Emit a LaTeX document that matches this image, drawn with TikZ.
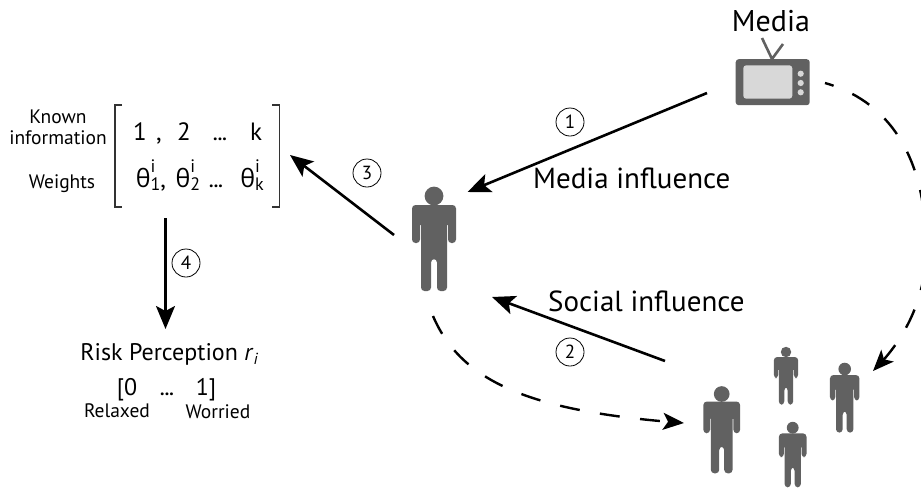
\documentclass[tikz,border=0pt]{standalone}
\usepackage{fontspec}
\setmainfont{PT Sans}
\newfontfamily\greekfont{Open Sans}
\usetikzlibrary{arrows.meta,bending}
\definecolor{figgray}{HTML}{616161}
\definecolor{screengray}{HTML}{D8D8D8}
\newcommand{\thetaij}[1]{{\greekfont θ}\rlap{\raisebox{.58em}{\fontsize{18}{18}\selectfont i}}\raisebox{-.14em}{\fontsize{18}{18}\selectfont #1}}
\newcommand{\tightdots}{\fontsize{18}{18}\selectfont\bfseries ...}
\tikzset{
  x=1pt,y=-1pt,
  solidarrow/.style={line width=2.6pt,draw=black,-{Stealth[length=23pt,width=19pt,inset=5pt]}},
  dasharrow/.style={line width=2.4pt,draw=black,dash pattern=on 20pt off 20.5pt,dash phase=11pt,-{Stealth[length=21pt,width=17pt,inset=5pt]}},
  lbl/.style={inner sep=0pt,outer sep=0pt,font=\fontsize{19.5}{22}\selectfont},
  mat/.style={inner sep=0pt,anchor=base,font=\fontsize{25}{28}\selectfont},
  big/.style={inner sep=0pt,font=\fontsize{29}{32}\selectfont},
  num/.style={circle,draw=black,line width=.8pt,minimum size=28pt,inner sep=0pt,font=\fontsize{19}{20}\selectfont},
  bracket/.style={line width=1.2pt,draw=black!80},
  person/.pic={
    \fill[figgray] (0,0) circle (9.4);
    \fill[figgray,rounded corners=3.5pt] (-22,9) -- (22,9) -- (22,47) -- (14,47) -- (14,26) -- (13,26) -- (13,95) -- (3,95) -- (3,63) -- (-3,63) -- (-3,95) -- (-13,95) -- (-13,26) -- (-14,26) -- (-14,47) -- (-22,47) -- cycle;
  }
}
\begin{document}
\begin{tikzpicture}
\useasboundingbox (0,0) rectangle (921,488);
% people
\pic[transform shape] at (434,196) {person};
\pic[scale=.835,transform shape] at (721.7,394) {person};
\pic[scale=.555,transform shape] at (786,352) {person};
\pic[scale=.67,transform shape] at (844.7,369) {person};
\pic[scale=.628,transform shape] at (792.7,427.7) {person};
% tv
\draw[figgray,line width=2.6pt] (762,38) -- (772,59) -- (783,44);
\node[fill=figgray,rounded corners=3pt,minimum width=74pt,minimum height=46pt,inner sep=0pt] (tv) at (772.7,82.2) {};
\node[fill=screengray,rounded corners=3pt,minimum width=49pt,minimum height=33.4pt,inner sep=0pt] (screen) at (767.8,82) {};
\foreach \yy in {73.7,83,92.3} \fill[screengray] (800.7,\yy) circle (3.1);
\node[big,font=\fontsize{30}{32}\selectfont] (media) at (771,21) {Media};
% endpoints
\coordinate (m0) at (707,93); \coordinate (m1) at (467.5,192);
\coordinate (p0) at (394,235); \coordinate (p1) at (290,155);
\coordinate (s0) at (665,361); \coordinate (s1) at (492,297);
\coordinate (k0) at (165.5,218); \coordinate (k1) at (165.5,329);
\coordinate (d0) at (825,83); \coordinate (dm) at (925,225); \coordinate (d1) at (873,371);
\coordinate (e0) at (433,316); \coordinate (e1) at (684,423);
\draw[solidarrow] (m0) -- (m1);
\draw[solidarrow] (p0) -- (p1);
\draw[solidarrow] (s0) -- (s1);
\draw[solidarrow] (k0) -- (k1);
\draw[dasharrow] (d0) .. controls (885,100) and (920,150) .. (dm) .. controls (932,285) and (910,335) .. (d1);
\draw[dasharrow,dash phase=0pt] (e0) .. controls (462,384) and (535,412) .. (e1);
% number labels
\node[num] (n1) at (570,122) {1};
\node[num] (n2) at (570,352) {2};
\node[num] (n3) at (367,173) {3};
\node[num] (n4) at (186,263) {4};
% influence labels
\node[big,anchor=west] (mi) at (533,178) {Media influence};
\node[big,anchor=west] (si) at (548,301) {Social influence};
% matrix labels
\node[lbl,align=center] (ki) at (58,127) {Known\\[-1pt]information};
\node[lbl] (wt) at (62,184) {Weights};
\draw[bracket] (122,105) -- (115,105) -- (115,207) -- (122,207);
\draw[bracket] (272,105) -- (279.5,105) -- (279.5,207) -- (272,207);
\node[mat] (a1) at (140,140) {1};
\node[mat] (a2) at (159,140) {,};
\node[mat] (a3) at (184,140) {2};
\node[mat] (a4) at (220,140) {\tightdots};
\node[mat] (a5) at (256,140) {k};
\node[mat] (b1) at (151,187) {\thetaij{1},};
\node[mat] (b2) at (188,187) {\thetaij{2}};
\node[mat] (b3) at (216,187) {\tightdots};
\node[mat] (b4) at (252,187) {\thetaij{k}};
% risk
\node[inner sep=0pt,anchor=base,font=\fontsize{24}{26}\selectfont] (rp) at (169,360) {Risk Perception \textit{r}\raisebox{-.2em}{\fontsize{16}{16}\selectfont\itshape i}};
\node[mat,font=\fontsize{24}{26}\selectfont] (r0) at (127,395) {[0};
\node[mat] (rd) at (167,395) {\tightdots};
\node[mat,font=\fontsize{24}{26}\selectfont] (r9) at (206,395) {1]};
\node[lbl] (rel) at (117,411) {Relaxed};
\node[lbl] (wor) at (218,412) {Worried};
\end{tikzpicture}
\end{document}
